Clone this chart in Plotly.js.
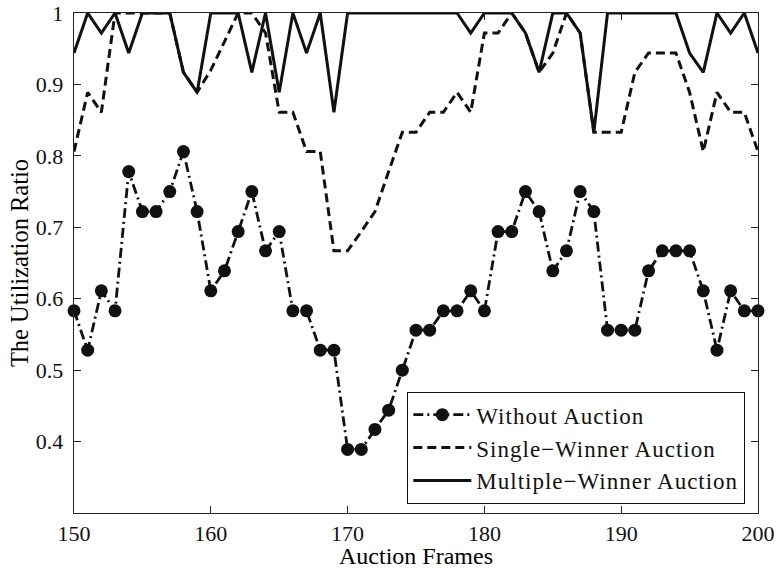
<!DOCTYPE html>
<html>
<head>
<meta charset="utf-8">
<script src="https://cdn.plot.ly/plotly-3.0.1.min.js"></script>
<style>html,body{margin:0;padding:0;background:#fff;}#chart{width:778px;height:569px;}</style>
</head>
<body>
<div id="chart"></div>
<script>
const frames = [150,151,152,153,154,155,156,157,158,159,160,161,162,163,164,165,166,167,168,169,170,171,172,173,174,175,176,177,178,179,180,181,182,183,184,185,186,187,188,189,190,191,192,193,194,195,196,197,198,199,200];

const withoutAuction = [0.583,0.528,0.611,0.583,0.778,0.722,0.722,0.750,0.806,0.722,
  0.611,0.639,0.694,0.750,0.667,0.694,0.583,0.583,0.528,0.528,
  0.389,0.389,0.417,0.444,0.500,0.556,0.556,0.583,0.583,0.611,
  0.583,0.694,0.694,0.750,0.722,0.639,0.667,0.750,0.722,0.556,
  0.556,0.556,0.639,0.667,0.667,0.667,0.611,0.528,0.611,0.583,
  0.583];

const singleWinner = [0.806,0.889,0.861,1,1,1,1,1,0.917,0.889,
  0.92,0.96,1,1,0.972,0.861,0.861,0.806,0.806,0.667,
  0.667,0.694,0.722,0.778,0.833,0.833,0.861,0.861,0.889,0.861,
  0.972,0.972,1,0.972,0.917,0.944,1,0.972,0.833,0.833,
  0.833,0.917,0.944,0.944,0.944,0.889,0.806,0.889,0.861,0.861,
  0.806];

const multiWinner = [0.944,1,0.972,1,0.944,1,1,1,0.917,0.889,
  1,1,1,0.917,1,0.889,1,0.944,1,0.861,
  1,1,1,1,1,1,1,1,1,0.972,
  1,1,1,0.972,0.917,1,1,0.972,0.833,1,
  1,1,1,1,1,0.944,0.917,1,0.972,1,
  0.944];

const seriesNames = ["Without Auction", "Single\u2212Winner Auction", "Multiple\u2212Winner Auction"];
const xTickVals = [150,160,170,180,190,200];
const xTickText = ["150","160","170","180","190","200"];
const yTickVals = [0.4,0.5,0.6,0.7,0.8,0.9,1];
const yTickText = ["0.4","0.5","0.6","0.7","0.8","0.9","1"];

const FONT = "Liberation Serif, Times New Roman, serif";
const legendLabel = s => '<span style="letter-spacing:1px">' + s + '</span>';

const traces = [
  {x: frames, y: withoutAuction, name: legendLabel(seriesNames[0]), type: "scatter", mode: "lines+markers",
   line: {color: "#111", width: 2.8, dash: "10px,4px,2px,4px"},
   marker: {symbol: "circle", size: 13, color: "#111"}, cliponaxis: false},
  {x: frames, y: singleWinner, name: legendLabel(seriesNames[1]), type: "scatter", mode: "lines",
   line: {color: "#111", width: 3, dash: "9px,5px"}},
  {x: frames, y: multiWinner, name: legendLabel(seriesNames[2]), type: "scatter", mode: "lines",
   line: {color: "#111", width: 3}}
];

const axisCommon = {
  showgrid: false, zeroline: false, showline: true, linecolor: "#222", linewidth: 1.3,
  mirror: "ticks", ticks: "inside", ticklen: 7, tickwidth: 1.1, tickcolor: "#222",
  tickfont: {family: FONT, size: 22, color: "#111"}
};

const layout = {
  width: 778, height: 569,
  margin: {l: 74, r: 20, t: 13, b: 56},
  paper_bgcolor: "#fff", plot_bgcolor: "#fff",
  font: {family: FONT, color: "#111"},
  xaxis: Object.assign({}, axisCommon, {
    range: [150, 200], tickvals: xTickVals, ticktext: xTickText,
    ticklabelstandoff: 0,
    title: {text: "Auction Frames", font: {family: FONT, size: 24, color: "#000"}, standoff: 4}
  }),
  yaxis: Object.assign({}, axisCommon, {
    range: [0.3, 1], tickvals: yTickVals, ticktext: yTickText,
    ticklabelstandoff: 5,
    title: {text: "The Utilization Ratio", font: {family: FONT, size: 24.5, color: "#000"}, standoff: 0}
  }),
  showlegend: true,
  legend: {
    x: 0.487, y: 0.242, xanchor: "left", yanchor: "top",
    bgcolor: "#fff", bordercolor: "#111", borderwidth: 1.2,
    font: {family: FONT, size: 23, color: "#111"},
    itemwidth: 58, tracegroupgap: 0
  }
};

Plotly.newPlot("chart", traces, layout, {displayModeBar: false, staticPlot: true});
</script>
</body>
</html>
